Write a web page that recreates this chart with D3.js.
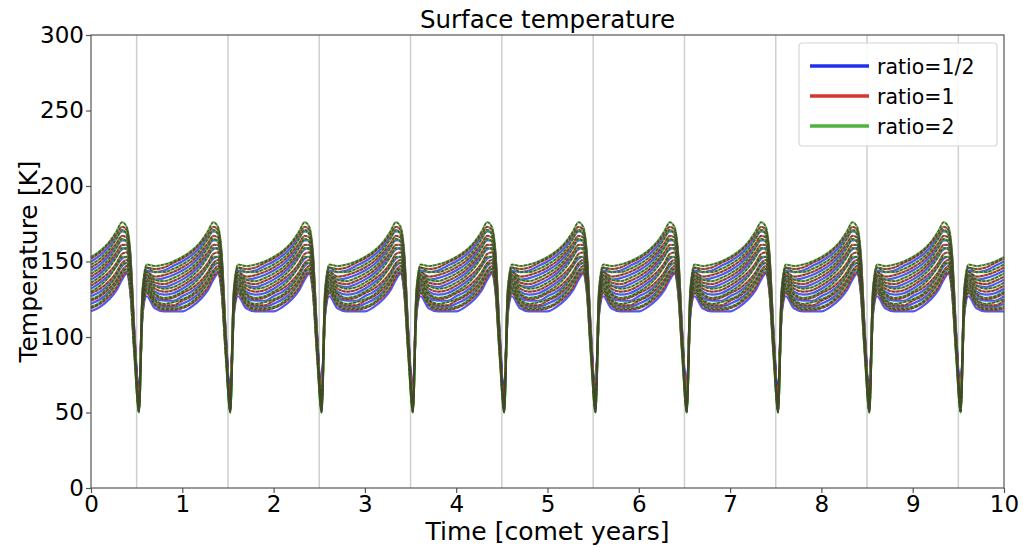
<!DOCTYPE html>
<html lang="en">
<head>
  <meta charset="UTF-8" />
  <title>Surface temperature</title>
  <script src="https://d3js.org/d3.v7.min.js"></script>
  <style>
    html, body {
      margin: 0;
      padding: 0;
      background-color: #fff;
      overflow: hidden;
      font-family: 'DejaVu Sans', sans-serif;
    }
    svg { display: block; }
  </style>
</head>
<body>
  <svg width="1023" height="547"></svg>

  <script>
    // one orbit, phase within a comet year
    const phases = [0, 0.1, 0.2, 0.28, 0.34, 0.39, 0.43, 0.475, 0.525, 0.565, 0.61, 0.7, 0.8, 0.9];
    const nYears = 10;

    // temperature [K] at each phase, one row per run
    const ratioHalf = [
      [150, 154, 160, 166, 170, 169, 154, 104, 62, 128, 144, 143, 144, 147],
      [144, 148, 154, 160, 164, 164, 150, 102, 61, 126, 141, 138, 139, 141],
      [138, 142, 148, 154, 158, 159, 146, 100, 60, 124, 139, 134, 133, 135],
      [132, 136, 141, 147, 152, 153, 141, 98, 61, 121, 136, 130, 128, 129],
      [127, 130, 135, 141, 147, 149, 137, 96, 62, 119, 133, 126, 124, 124],
      [122, 125, 130, 136, 142, 145, 133, 94, 63, 117, 130, 122, 120, 120],
      [117, 120, 125, 131, 138, 142, 130, 92, 64, 115, 127, 119, 117, 117]
    ];
    const ratioOne = [
      [152, 156, 162, 168, 173, 171, 155, 102, 57, 130, 146, 145, 146, 149],
      [146, 150, 156, 162, 167, 166, 151, 100, 56, 128, 143, 140, 141, 143],
      [140, 144, 150, 156, 161, 161, 147, 98, 56, 125, 141, 136, 135, 137],
      [134, 138, 143, 149, 155, 156, 143, 96, 57, 123, 138, 132, 130, 131],
      [129, 132, 137, 143, 149, 151, 139, 94, 58, 121, 135, 128, 125, 126],
      [124, 127, 132, 138, 144, 147, 135, 92, 59, 119, 132, 124, 121, 121],
      [119, 122, 127, 133, 140, 143, 131, 90, 60, 117, 129, 121, 118, 118]
    ];
    const ratioTwo = [
      [153, 157, 163, 170, 176, 173, 156, 100, 51, 132, 148, 147, 148, 150],
      [148, 152, 158, 165, 171, 168, 152, 98, 50, 130, 146, 143, 143, 145],
      [142, 146, 152, 159, 165, 163, 148, 96, 50, 127, 143, 138, 137, 139],
      [136, 140, 146, 153, 159, 158, 144, 94, 51, 125, 140, 134, 132, 133],
      [130, 134, 140, 147, 153, 153, 140, 92, 52, 122, 137, 129, 126, 127],
      [125, 128, 134, 141, 148, 149, 136, 90, 53, 120, 134, 125, 122, 123],
      [120, 123, 129, 136, 143, 145, 132, 88, 54, 118, 131, 122, 119, 119]
    ];

    const seriesNames = ["ratio=1/2", "ratio=1", "ratio=2"];
    const seriesColors = ["#1f30f0", "#d8352a", "#4db33d"];
    const seriesRuns = [ratioHalf, ratioOne, ratioTwo];

    const xTicks = d3.range(0, 11);
    const yTicks = [0, 50, 100, 150, 200, 250, 300];
    const perihelion = d3.range(0.5, 10, 1);

    const svg = d3.select("svg");
    const margin = { left: 91, right: 1004, top: 35, bottom: 488 };

    const x = d3.scaleLinear().domain([0, 10]).range([margin.left, margin.right]);
    const y = d3.scaleLinear().domain([0, 300]).range([margin.bottom, margin.top]);

    // periodic grid lines
    svg.append("g")
      .selectAll("line")
      .data(perihelion)
      .enter()
      .append("line")
      .attr("x1", d => x(d)).attr("x2", d => x(d))
      .attr("y1", margin.top).attr("y2", margin.bottom)
      .attr("stroke", "#cfcfcf")
      .attr("stroke-width", 1.5);

    function expand(row) {
      const pts = [];
      for (let k = 0; k < nYears; k++) {
        phases.forEach((p, i) => pts.push([k + p, row[i]]));
      }
      pts.push([nYears, row[0]]);
      return pts;
    }

    const line = d3.line()
      .x(d => x(d[0]))
      .y(d => y(d[1]))
      .curve(d3.curveMonotoneX);

    const plot = svg.append("g");

    seriesRuns.forEach((runs, s) => {
      runs.forEach(row => {
        plot.append("path")
          .attr("d", line(expand(row)))
          .attr("fill", "none")
          .attr("stroke", seriesColors[s])
          .attr("stroke-width", 2.2)
          .attr("stroke-opacity", 0.8);
      });
    });

    // dark overlay where runs pile up
    seriesRuns.forEach((runs, s) => {
      if (s === 0) return;
      runs.forEach(row => {
        plot.append("path")
          .attr("d", line(expand(row)))
          .attr("fill", "none")
          .attr("stroke", "#45482c")
          .attr("stroke-width", 1.5)
          .attr("stroke-dasharray", "3,1.5")
          .attr("stroke-opacity", 0.85);
      });
    });

    // frame
    svg.append("rect")
      .attr("x", margin.left).attr("y", margin.top)
      .attr("width", margin.right - margin.left)
      .attr("height", margin.bottom - margin.top)
      .attr("fill", "none")
      .attr("stroke", "#555")
      .attr("stroke-width", 1.2);

    const xAxis = svg.append("g")
      .attr("transform", `translate(0,${margin.bottom})`)
      .call(d3.axisBottom(x).tickValues(xTicks).tickFormat(d3.format("d")).tickSize(5).tickSizeOuter(0));
    const yAxis = svg.append("g")
      .attr("transform", `translate(${margin.left},0)`)
      .call(d3.axisLeft(y).tickValues(yTicks).tickSize(5).tickSizeOuter(0));

    [xAxis, yAxis].forEach(ax => {
      ax.select(".domain").remove();
      ax.selectAll(".tick line").attr("stroke", "#555").attr("stroke-width", 1.2);
      ax.selectAll(".tick text")
        .attr("fill", "#000")
        .style("font-family", "'DejaVu Sans', sans-serif")
        .style("font-size", "23px");
    });
    xAxis.selectAll(".tick text").attr("y", 6).attr("dy", "0.8em");
    yAxis.selectAll(".tick text").attr("x", -7);

    svg.append("text")
      .attr("x", (margin.left + margin.right) / 2)
      .attr("y", 28)
      .attr("text-anchor", "middle")
      .style("font-size", "24.5px")
      .text("Surface temperature");

    svg.append("text")
      .attr("x", (margin.left + margin.right) / 2)
      .attr("y", 540)
      .attr("text-anchor", "middle")
      .style("font-size", "25px")
      .text("Time [comet years]");

    svg.append("text")
      .attr("transform", `translate(37,${(margin.top + margin.bottom) / 2}) rotate(-90)`)
      .attr("text-anchor", "middle")
      .style("font-size", "25px")
      .text("Temperature [K]");

    // legend
    const legend = svg.append("g").attr("transform", "translate(799,43)");
    legend.append("rect")
      .attr("width", 198).attr("height", 103)
      .attr("rx", 3)
      .attr("fill", "#fff").attr("fill-opacity", 0.85)
      .attr("stroke", "#d6d6d6").attr("stroke-width", 1.2);
    seriesNames.forEach((name, i) => {
      const row = legend.append("g").attr("transform", `translate(0,${23 + i * 30})`);
      row.append("line")
        .attr("x1", 11).attr("x2", 70)
        .attr("stroke", seriesColors[i])
        .attr("stroke-width", 3.5);
      row.append("text")
        .attr("x", 78).attr("y", 7.5)
        .style("font-size", "20.5px")
        .text(name);
    });
  </script>
</body>
</html>
